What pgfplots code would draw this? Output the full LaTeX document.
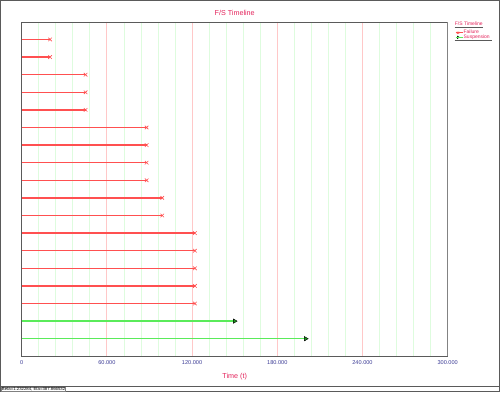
\documentclass[border=0pt]{standalone}
\usepackage{pgfplots}
\pgfplotsset{compat=1.18}
\usepackage{fontspec}
\setmainfont{Liberation Sans}
\definecolor{titlered}{RGB}{228,36,92}
\definecolor{failred}{RGB}{255,80,80}
\definecolor{suspgreen}{RGB}{90,235,90}
\definecolor{trifill}{RGB}{30,150,30}
\definecolor{tickblue}{RGB}{60,60,150}
\definecolor{majgrid}{RGB}{255,200,200}
\definecolor{mingrid}{RGB}{222,252,222}
\definecolor{framegray}{RGB}{90,90,90}
\begin{document}
\begin{tikzpicture}
\draw[framegray, fill=white, line width=0.8pt] (0.5pt,0.5pt) rectangle (499.5pt,392.5pt);
\draw[framegray, line width=0.8pt] (0pt,5.5pt) -- (500pt,5.5pt);
\node[anchor=west, font=\fontsize{4.3}{4.3}\selectfont, inner sep=0.4pt, draw=gray, line width=0.3pt] at (1pt,2.9pt) {Beta=1.232284, Eta=387.866532};
\begin{axis}[
  at={(21.3pt,36pt)}, anchor=south west, scale only axis,
  width=426.7pt, height=335pt,
  xmin=0, xmax=300, ymin=0, ymax=19, y dir=reverse,
  xtick={0,60,...,300},
  xticklabels={0,60.000,120.000,180.000,240.000,300.000},
  minor xtick={12,24,...,288},
  ytick=\empty,
  major tick length=0pt, minor tick length=0pt,
  xmajorgrids, xminorgrids,
  major grid style={majgrid, line width=0.8pt},
  minor grid style={mingrid, line width=0.8pt},
  axis line style={framegray, line width=0.7pt},
  tick label style={font=\fontsize{5.6}{6}\selectfont, text=tickblue},
  xticklabel style={yshift=-1pt},
  /pgf/number format/assume math mode=true,
  title={F/S Timeline},
  every axis title/.style={at={(0.5,1)}, anchor=center, yshift=9pt},
  title style={font=\fontsize{7.2}{8}\selectfont, text=titlered},
  xlabel={Time (t)},
  xlabel style={font=\fontsize{7.2}{8}\selectfont, text=titlered, at={(axis description cs:0.5,0)}, anchor=center, yshift=-20.5pt},
  legend style={at={(1.0164,0.9746)}, anchor=north west, draw=none, fill=none,
    font=\fontsize{5}{5}\selectfont, text=titlered, inner sep=0pt, row sep=0pt, column sep=0pt,
    nodes={inner sep=0pt, text height=3.4pt, text depth=1.1pt}},
  legend cell align=left,
]
\addplot[xcomb, failred, line width=1.3pt, mark=x, mark size=2.5pt,
  mark options={line width=0.6pt},
  legend image code/.code={\draw[failred, line width=0.5pt, sharp plot] plot[sharp plot, mark=x, mark size=1.6pt, only marks] coordinates {(2.5pt,0pt)}; \path (0pt,0pt) -- (7.5pt,0pt);}]
  coordinates {(20,1) (20,2) (45,3) (45,4) (45,5) (88,6) (88,7) (88,8) (88,9) (99,10) (99,11) (122,12) (122,13) (122,14) (122,15) (122,16)};
\addlegendentry{Failure}
\addplot[xcomb, suspgreen, line width=1.3pt, mark=triangle*, mark size=2.5pt,
  mark options={rotate=-90, fill=trifill, draw=black, line width=0.4pt},
  legend image code/.code={\draw[black, fill=trifill, line width=0.3pt, sharp plot] plot[sharp plot, mark=triangle*, mark size=1.6pt, mark options={rotate=-90}, only marks] coordinates {(2.5pt,0pt)}; \path (0pt,0pt) -- (7.5pt,0pt);}]
  coordinates {(150,17) (200,18)};
\addlegendentry{Suspension}
\draw[gray!80, line width=1.6pt] (rel axis cs:1,0) -- (rel axis cs:1,1);
\end{axis}
\node[anchor=base west, font=\fontsize{5}{5}\selectfont, text=titlered, inner sep=0pt] at (455pt,367pt) {F/S Timeline};
\draw[framegray, line width=0.7pt] (455pt,365.7pt) -- (483pt,365.7pt);
\draw[framegray, line width=0.7pt] (455pt,352.7pt) -- (492.7pt,352.7pt);
\end{tikzpicture}
\end{document}
